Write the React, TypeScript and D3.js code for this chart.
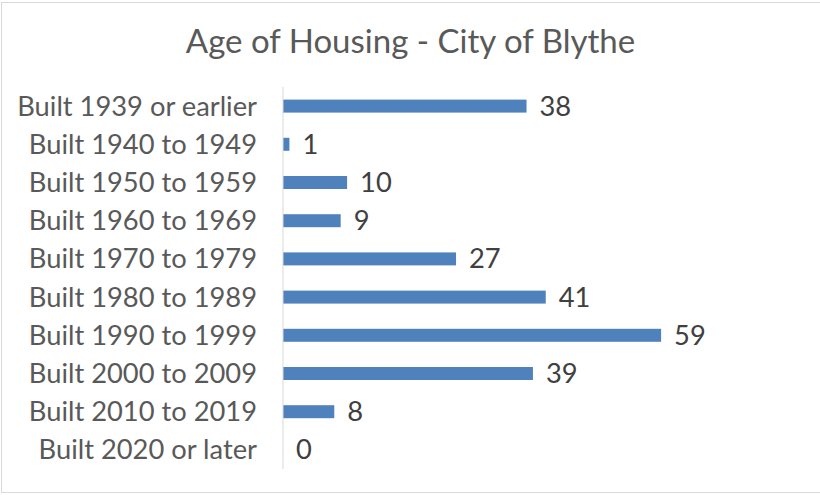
import React from "react";
import * as d3 from "d3";

const categories = [
  "Built 1939 or earlier",
  "Built 1940 to 1949",
  "Built 1950 to 1959",
  "Built 1960 to 1969",
  "Built 1970 to 1979",
  "Built 1980 to 1989",
  "Built 1990 to 1999",
  "Built 2000 to 2009",
  "Built 2010 to 2019",
  "Built 2020 or later",
];
const values = [38, 1, 10, 9, 27, 41, 59, 39, 8, 0];
const title = "Age of Housing - City of Blythe";

const W = 820;
const H = 495;
const FONT = "Lato, 'Open Sans', sans-serif";

export default function App() {
  const x = d3.scaleLinear().domain([0, 70]).range([283, 731.6]);
  const y = d3.scaleBand<string>().domain(categories).range([87, 469]).paddingInner(0.66).paddingOuter(0.33);
  const bw = y.bandwidth();
  return (
    <svg width={W} height={H} style={{ position: "absolute", left: 0, top: 0 }}>
      <rect x={0} y={0} width={W} height={H} fill="#fff" />
      <rect x={1.5} y={2.5} width={W + 10} height={490} fill="#fff" stroke="#d9d9d9" strokeWidth={1} />
      <text x={410.5} y={53} textAnchor="middle" fontFamily={FONT} fontSize={33} fill="#595959">
        {title}
      </text>
      {categories.map((c, i) => {
        const cy = (y(c) as number) + bw / 2;
        return (
          <g key={c}>
            <rect x={x(0)} y={y(c)} width={x(values[i]) - x(0)} height={bw} fill="#4f81bd" />
            <text x={x(values[i]) + 13} y={cy} dy="0.35em" fontFamily={FONT} fontSize={27.3} fill="#404040">
              {values[i]}
            </text>
            <text x={257} y={cy} dy="0.35em" textAnchor="end" fontFamily={FONT} fontSize={27.3} fill="#595959">
              {c}
            </text>
          </g>
        );
      })}
      <line x1={x(0)} x2={x(0)} y1={87} y2={469} stroke="#d9d9d9" strokeWidth={1} />
    </svg>
  );
}
